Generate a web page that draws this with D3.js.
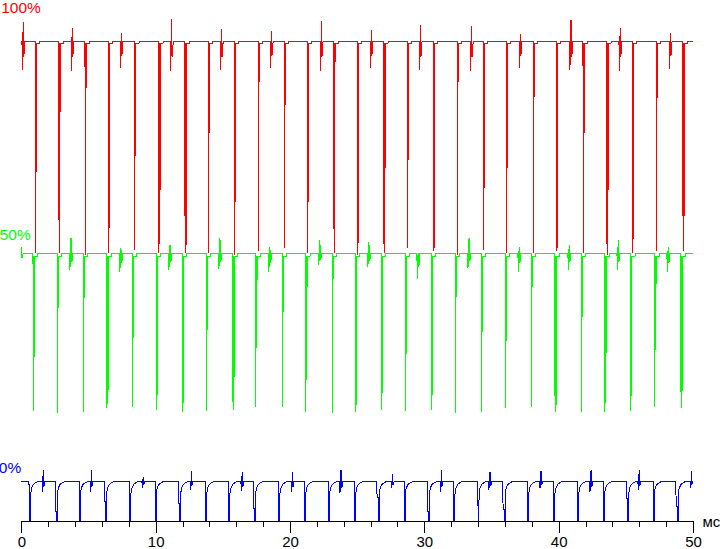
<!DOCTYPE html>
<html><head><meta charset="utf-8">
<script src="https://cdn.jsdelivr.net/npm/d3@7"></script>
<style>
html,body{margin:0;padding:0;background:#fff;overflow:hidden}
svg{display:block}
text{font-family:"Liberation Sans",Arial,sans-serif}
</style></head>
<body>
<svg id="c" width="720" height="549"></svg>
<script>
// ---------------- data ----------------
const seriesNames = ["100%", "50%", "0%"];
const seriesColors = ["#ff0000", "#00ff00", "#0000ff"];
const levels = [100, 55.8, 8.33];           // steady light level of each trace
const xTicksMinor = [0,2,4,6,8,10,12,14,16,18,20,22,24,26,28,30,32,34,36,38,40,42,44,46,48,50];
const xTicksMajor = [0,10,20,30,40,50];
const xUnit = "мс";

// red (100%) : drop times (ms), deepest value, value of the thick part
const redDropT = [1.07,2.81,4.76,6.51,8.46,10.25,12.19,13.95,15.89,17.64,19.61,21.32,23.28,25.04,27.00,28.76,30.70,32.46,34.41,36.13,38.14,39.85,41.83,43.60,45.51,47.30,49.26];
const redDropMin = [55.8,55.8,55.4,55.8,56.5,55.8,55.8,55.8,55.4,56.3,56.9,55.8,55.8,55.4,55.8,56.9,56.3,55.4,56.5,55.8,55.8,56.3,55.8,55.4,55.8,56.3,56.3];
const redDropThick = [72.7,85.2,90.2,61.0,76.3,60.6,57.5,80.8,66.5,91.5,86.7,66.5,95.6,57.9,73.5,75.2,56.9,91.5,69.4,73.5,88.3,56.9,80.8,69.0,58.8,88.1,63.5];
// red spikes: time, top value, bottom value
const redSpikeT = [0.15,3.80,7.47,11.20,14.92,18.64,22.36,26.08,29.73,33.53,37.17,40.92,44.59,48.34];
const redSpikeUp = [104.0,102.7,101.7,104.6,102.5,102.1,104.2,102.3,103.3,103.1,101.5,104.4,102.7,101.7];
const redSpikeDown = [94.0,93.8,94.4,93.8,94.0,94.4,93.8,94.4,94.0,93.8,94.4,94.0,93.8,94.2];

// green (50%)
const greenDropT = [0.89,2.68,4.62,6.38,8.29,10.08,12.01,13.80,15.76,17.47,19.43,21.19,23.15,24.89,26.83,28.61,30.55,32.31,34.27,36.03,37.99,39.73,41.69,43.45,45.38,47.17,49.11];
const greenDropMin = [23.0,22.6,22.8,23.5,23.8,23.1,22.8,23.0,23.1,23.8,23.8,22.8,22.6,22.8,23.1,23.0,23.1,22.6,22.8,23.5,23.8,22.8,22.8,22.8,23.0,23.7,23.5];
const greenDropThick = [34.2,44.4,46.5,27.3,38.1,26.3,24.6,39.8,30.1,48.8,43.5,31.0,50.4,24.2,26.7,34.8,26.3,46.7,39.4,37.4,48.8,24.2,42.4,30.4,26.0,44.0,27.1];
const greenSpikeT = [0.03,3.70,7.42,11.07,14.79,18.51,22.23,25.88,29.55,33.33,37.07,40.79,44.44,48.16];
const greenSpikeUp = [57.1,59.0,56.9,57.5,59.0,57.1,58.5,58.1,55.8,59.0,57.1,57.5,58.5,57.1];
const greenSpikeDown = [54.0,52.3,51.9,52.3,52.5,51.9,53.3,52.9,50.4,52.7,51.9,52.3,52.3,51.9];

// blue (0%) : drops go to zero; optional short step just before the drop
const blueDropT = [0.63,2.61,4.32,6.28,8.09,9.97,11.79,13.73,15.46,17.37,19.18,21.10,22.88,24.82,26.57,28.51,30.30,32.21,34.00,35.95,37.70,39.65,41.42,43.35,45.14,47.04,48.83];
const blueDropPre = [7.6,1.9,null,4.0,null,null,3.7,null,null,2.6,null,null,null,null,5.0,null,1.9,null,null,2.3,null,null,null,null,4.7,null,3.0];
const blueSpikeT = [1.64,5.24,9.08,12.68,16.45,20.20,23.80,27.65,31.29,34.89,38.69,42.41,46.00,49.90];
const blueSpikeUp = [10.6,10.6,9.2,10.4,10.3,10.3,10.6,9.8,10.6,10.3,10.5,10.6,10.6,10.5];
const blueSpikeDown = [6.1,6.1,6.9,6.5,6.25,6.0,5.8,6.9,6.1,6.5,6.9,6.0,6.5,6.9];
// blue recovery after each drop: [ms after drop, value]
const blueRecovery = [[0.06,0],[0.075,5.8],[0.15,6.9],[0.27,7.6],[0.45,8.0],[0.7,8.33]];
// spike outline: [ms offset, fraction of up (+) / down (-) deflection]
const spikeShape = [[-0.1,0],[-0.08,-1],[-0.05,-0.15],[0,1],[0.02,-0.55],[0.05,-0.25],[0.075,-0.45],[0.1,0]];
const traceEnd = 49.97;

// ---------------- drawing ----------------
const svg = d3.select("#c");
const x = d3.scaleLinear().domain([0, 50]).range([21.3, 693]);
const y = d3.scaleLinear().domain([0, 100]).range([521, 41]);

function spikePts(L, t, up, down) {
  return spikeShape.map(([dt, f]) => [t + dt, f >= 0 ? L + f * (up - L) : L + f * (L - down)]);
}
function dropPts(L, t, mn, th, notch) {
  return [[t - 0.02, L], [t, mn], [t + 0.005, th], [t + 0.01, L - notch],
          [t + 0.07, L - notch], [t + 0.075, th], [t + 0.08, L - notch],
          [t + 0.3, L - notch], [t + 0.32, L]];
}
function finish(pts, L) {
  pts = pts.filter(p => p[0] >= 0 && p[0] <= traceEnd).sort((a, b) => a[0] - b[0]);
  if (!pts.length || pts[0][0] > 0) pts.unshift([0, L]);
  pts.push([traceEnd, L]);
  return pts;
}

const red = finish([
  ...redDropT.flatMap((t, i) => dropPts(levels[0], t, redDropMin[i], redDropThick[i], 0.45)),
  ...redSpikeT.flatMap((t, i) => spikePts(levels[0], t, redSpikeUp[i], redSpikeDown[i]))
], levels[0]);

const green = finish([
  ...greenDropT.flatMap((t, i) => dropPts(levels[1], t, greenDropMin[i], greenDropThick[i], 0.7)),
  ...greenSpikeT.flatMap((t, i) => spikePts(levels[1], t, greenSpikeUp[i], greenSpikeDown[i]))
], levels[1]);

const blue = finish([
  ...blueDropT.flatMap((t, i) => {
    const L = levels[2];
    const pre = blueDropPre[i];
    const head = pre == null ? [[t - 0.01, L], [t, 0]] : [[t - 0.1, L], [t - 0.09, pre], [t - 0.01, pre], [t, 0]];
    return head.concat(blueRecovery.map(([dt, v]) => [t + dt, v]));
  }),
  ...blueSpikeT.flatMap((t, i) => spikePts(levels[2], t, blueSpikeUp[i], blueSpikeDown[i]))
], levels[2]);

const line = d3.line().x(d => x(d[0])).y(d => y(d[1]));
[red, green, blue].forEach((pts, i) => {
  svg.append("path").attr("d", line(pts))
    .attr("fill", "none").attr("stroke", seriesColors[i])
    .attr("stroke-width", 1).attr("shape-rendering", "crispEdges");
});

// axis
const gx = svg.append("g").attr("transform", "translate(0,521)");
gx.call(d3.axisBottom(x).tickValues(xTicksMinor).tickSize(6).tickSizeOuter(0).tickFormat(""));
const gx2 = svg.append("g").attr("transform", "translate(0,521)");
gx2.call(d3.axisBottom(x).tickValues(xTicksMajor).tickSize(12).tickSizeOuter(0).tickPadding(3.5).tickFormat(d3.format("d")));
gx2.select(".domain").remove();
svg.selectAll(".tick text").attr("font-size", 15).attr("font-family", '"Liberation Sans",Arial,sans-serif').attr("fill", "#000");
svg.selectAll("g path.domain, g .tick line").attr("stroke", "#000").attr("shape-rendering", "crispEdges");

svg.append("text").attr("x", 702.5).attr("y", 526.5).attr("font-size", 15).attr("fill", "#000").text(xUnit);

// series labels
const labelX = [1.2, -0.3, -1.2];
const labelY = [12.5, 240, 472.5];
seriesNames.forEach((n, i) => {
  svg.append("text").attr("x", labelX[i]).attr("y", labelY[i])
    .attr("font-size", 15.5).attr("fill", seriesColors[i]).text(n);
});
</script>
</body></html>
